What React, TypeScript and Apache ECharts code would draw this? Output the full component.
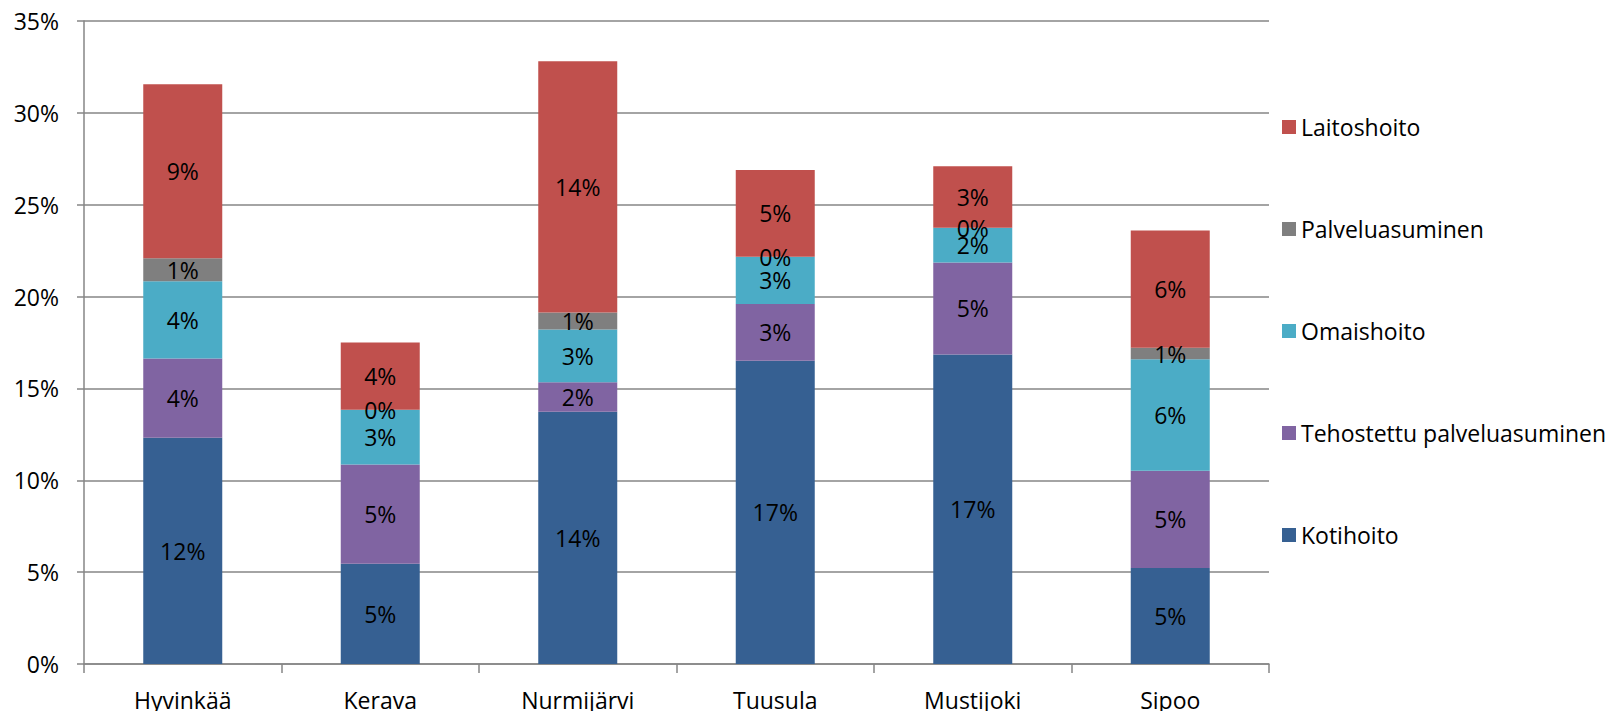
import React, { useEffect, useRef } from "react";
import * as echarts from "echarts";

const categories = ["Hyvinkää", "Kerava", "Nurmijärvi", "Tuusula", "Mustijoki", "Sipoo"];
const kotihoito = [12.32, 5.46, 13.73, 16.5, 16.85, 5.23];
const tehostettu = [4.31, 5.4, 1.6, 3.1, 5.01, 5.29];
const omaishoito = [4.21, 2.98, 2.88, 2.57, 1.88, 6.07];
const palveluasuminen = [1.25, 0, 0.92, 0, 0, 0.62];
const laitoshoito = [9.47, 3.66, 13.68, 4.72, 3.35, 6.39];
const yTicks = { min: 0, max: 35, interval: 5 };

const FONT = "'Open Sans', sans-serif";
const FS = 23;
const GRID = "#868686";

export default function App() {
  const ref = useRef<HTMLDivElement>(null);
  useEffect(() => {
    const chart = echarts.init(ref.current!, null, { renderer: "svg" });
    const label = {
      show: true,
      position: "inside",
      color: "#000",
      fontFamily: FONT,
      fontSize: FS,
      formatter: (p: any) => Math.round(p.value) + "%",
    };
    const mk = (name: string, data: number[], color: string) => ({
      name,
      type: "bar",
      stack: "total",
      data,
      barWidth: "40%",
      itemStyle: { color },
      label,
      emphasis: { disabled: true },
    });
    chart.setOption({
      animation: false,
      textStyle: { fontFamily: FONT },
      grid: { left: 84, right: 353, top: 21, bottom: 47, containLabel: false },
      legend: {
        orient: "vertical",
        left: 1277,
        top: 110,
        itemWidth: 14,
        itemHeight: 14,
        itemGap: 78,
        icon: "rect",
        selectedMode: false,
        textStyle: { fontFamily: FONT, fontSize: FS, color: "#000", lineHeight: 24 },
        data: ["Laitoshoito", "Palveluasuminen", "Omaishoito", "Tehostettu palveluasuminen", "Kotihoito"],
      },
      xAxis: {
        type: "category",
        data: categories,
        axisLine: { lineStyle: { color: GRID, width: 1.5 } },
        axisTick: { show: true, length: 9, lineStyle: { color: GRID, width: 1.5 } },
        axisLabel: { fontFamily: FONT, fontSize: FS, color: "#000", margin: 24 },
      },
      yAxis: {
        type: "value",
        min: yTicks.min,
        max: yTicks.max,
        interval: yTicks.interval,
        axisLine: { show: true, lineStyle: { color: GRID, width: 1.5 } },
        axisTick: { show: true, length: 7, lineStyle: { color: GRID, width: 1.5 } },
        splitLine: { lineStyle: { color: GRID, width: 1.5 } },
        axisLabel: { fontFamily: FONT, fontSize: FS, color: "#000", margin: 25, formatter: "{value}%" },
      },
      series: [
        mk("Kotihoito", kotihoito, "#366092"),
        mk("Tehostettu palveluasuminen", tehostettu, "#8064A2"),
        mk("Omaishoito", omaishoito, "#4BACC6"),
        mk("Palveluasuminen", palveluasuminen, "#7F7F7F"),
        mk("Laitoshoito", laitoshoito, "#C0504D"),
      ],
    });
    return () => chart.dispose();
  }, []);
  return (
    <div
      ref={ref}
      style={{ position: "fixed", left: 0, top: 0, width: 1622, height: 711, background: "#fff" }}
    />
  );
}
